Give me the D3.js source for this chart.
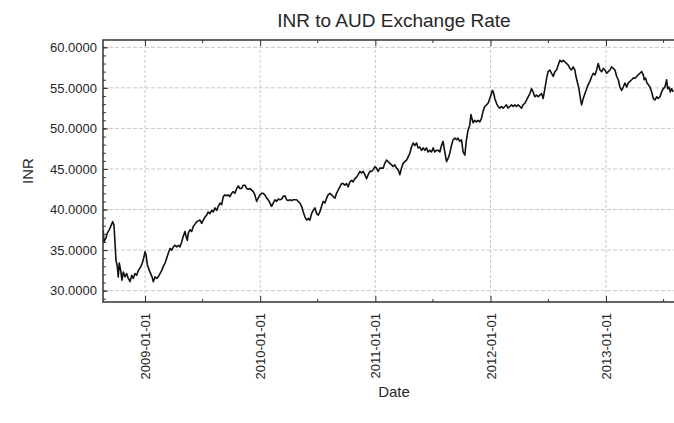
<!DOCTYPE html>
<html><head><meta charset="utf-8">
<script src="https://cdn.jsdelivr.net/npm/d3@7"></script>
<style>
html,body{margin:0;padding:0;background:#fff;}
text{font-family:"Liberation Sans",Arial,sans-serif;fill:#262626;}
</style></head>
<body><svg id="c" width="674" height="423"></svg>
<script>
// ---- data (decimal years, INR per AUD) ----
const years = [
2008.638,2008.644,2008.662,2008.673,2008.690,2008.702,2008.720,2008.731,2008.742,2008.748,2008.760,2008.768,2008.777,2008.789,2008.800,2008.812,2008.826,2008.841,2008.855,2008.870,2008.885,2008.898,2008.913,2008.928,2008.942,2008.957,2008.971,2008.985,
2009.000,2009.009,2009.020,2009.037,2009.049,2009.061,2009.072,2009.087,2009.102,2009.115,2009.130,2009.145,2009.159,2009.174,2009.188,2009.202,2009.217,2009.232,2009.246,2009.260,2009.275,2009.289,2009.304,2009.318,2009.332,2009.347,2009.356,2009.367,2009.376,2009.390,2009.405,2009.419,2009.434,2009.449,2009.462,2009.477,2009.492,2009.506,2009.521,2009.535,2009.549,2009.564,2009.579,2009.593,2009.607,2009.622,2009.636,2009.651,2009.666,2009.679,2009.694,2009.709,2009.723,2009.738,2009.752,2009.766,2009.781,2009.796,2009.810,2009.824,2009.839,2009.853,2009.868,2009.882,2009.896,2009.911,2009.926,2009.940,2009.954,2009.969,2009.983,2009.998,
2010.013,2010.026,2010.041,2010.056,2010.070,2010.085,2010.099,2010.113,2010.128,2010.143,2010.157,2010.171,2010.186,2010.200,2010.215,2010.230,2010.243,2010.258,2010.273,2010.287,2010.302,2010.316,2010.330,2010.345,2010.360,2010.374,2010.388,2010.403,2010.417,2010.432,2010.446,2010.460,2010.475,2010.490,2010.504,2010.518,2010.533,2010.547,2010.562,2010.577,2010.590,2010.605,2010.620,2010.634,2010.649,2010.663,2010.677,2010.692,2010.707,2010.721,2010.735,2010.750,2010.764,2010.779,2010.794,2010.807,2010.822,2010.837,2010.851,2010.866,2010.880,2010.894,2010.909,2010.924,2010.938,2010.952,2010.967,2010.981,2010.996,
2011.010,2011.024,2011.039,2011.054,2011.068,2011.082,2011.097,2011.111,2011.126,2011.141,2011.154,2011.169,2011.184,2011.198,2011.213,2011.227,2011.241,2011.256,2011.271,2011.285,2011.299,2011.314,2011.328,2011.343,2011.358,2011.371,2011.386,2011.401,2011.415,2011.430,2011.444,2011.458,2011.473,2011.488,2011.502,2011.516,2011.531,2011.545,2011.560,2011.574,2011.588,2011.603,2011.618,2011.632,2011.646,2011.661,2011.675,2011.690,2011.705,2011.718,2011.733,2011.748,2011.762,2011.777,2011.791,2011.805,2011.820,2011.830,2011.849,2011.863,2011.878,2011.892,2011.907,2011.921,2011.935,2011.950,2011.965,2011.979,2011.994,
2012.008,2012.017,2012.028,2012.037,2012.052,2012.066,2012.080,2012.095,2012.109,2012.124,2012.138,2012.152,2012.167,2012.182,2012.196,2012.210,2012.225,2012.239,2012.254,2012.269,2012.282,2012.297,2012.312,2012.326,2012.341,2012.355,2012.369,2012.384,2012.399,2012.413,2012.427,2012.442,2012.456,2012.471,2012.486,2012.499,2012.514,2012.529,2012.543,2012.558,2012.572,2012.586,2012.601,2012.616,2012.630,2012.644,2012.659,2012.673,2012.688,2012.702,2012.716,2012.731,2012.740,2012.754,2012.766,2012.774,2012.783,2012.789,2012.803,2012.818,2012.833,2012.846,2012.861,2012.876,2012.890,2012.905,2012.919,2012.933,2012.948,2012.963,2012.977,2012.991,
2013.006,2013.020,2013.035,2013.049,2013.063,2013.078,2013.093,2013.107,2013.121,2013.136,2013.150,2013.165,2013.180,2013.193,2013.208,2013.223,2013.237,2013.252,2013.266,2013.280,2013.295,2013.310,2013.324,2013.332,2013.344,2013.356,2013.367,2013.382,2013.397,2013.410,2013.425,2013.440,2013.454,2013.469,2013.483,2013.497,2013.512,2013.527,2013.535,2013.547,2013.558,2013.570,2013.584
];
const rates = [
37.5,36.0,36.5,37.1,37.5,37.9,38.5,38.1,35.4,33.8,33.0,31.7,33.4,32.5,31.3,32.3,31.7,32.1,31.5,31.1,31.9,31.5,32.1,31.9,32.5,32.8,33.2,33.8,
34.8,34.4,33.2,32.5,32.1,31.7,31.1,31.7,31.5,31.7,32.1,32.5,33.0,33.4,34.0,34.6,35.2,35.0,35.4,35.6,35.4,35.6,35.4,36.0,36.7,37.3,36.7,36.2,37.1,37.5,37.3,37.9,38.2,38.5,38.6,38.7,38.3,38.7,39.1,39.3,39.7,39.5,39.9,39.7,40.2,39.9,40.4,40.8,40.6,41.6,41.8,41.7,41.8,41.6,42.0,42.2,42.0,42.6,42.9,42.6,42.6,43.0,43.0,42.6,42.5,42.6,42.4,42.2,41.8,41.0,41.4,41.8,
42.0,42.0,41.8,41.4,41.2,40.8,40.4,40.8,41.2,41.0,41.3,41.2,41.3,41.6,41.7,41.2,41.1,41.2,41.1,41.2,41.2,41.2,41.0,40.8,40.4,39.7,39.1,38.7,38.9,38.7,39.5,39.9,40.2,39.5,39.3,39.7,40.4,41.0,40.8,41.4,41.8,42.0,41.8,41.6,41.4,42.0,42.4,42.8,43.2,43.2,43.0,43.2,42.8,43.4,43.6,43.4,43.8,44.0,44.3,44.7,44.5,44.7,44.3,43.8,44.3,44.7,44.7,44.9,45.3,
45.1,44.7,45.1,45.1,45.1,45.7,46.1,45.9,45.7,45.5,45.3,45.5,45.1,44.9,44.3,45.1,45.7,45.9,46.1,46.5,46.9,47.7,48.2,47.9,48.2,47.6,47.7,47.3,47.6,47.3,47.6,47.1,47.3,47.1,47.6,47.1,47.3,47.3,47.1,47.9,48.4,47.1,45.9,46.3,46.9,47.9,48.6,48.8,48.6,48.8,48.4,48.6,47.1,46.7,48.6,49.8,50.4,51.7,50.7,51.0,50.8,51.0,50.8,51.2,52.1,52.7,52.9,53.1,53.7,
54.3,54.7,54.3,53.7,53.1,52.7,52.5,52.7,52.5,52.7,52.9,52.5,52.7,52.9,52.7,52.9,52.7,52.9,52.7,52.5,52.9,53.1,53.5,53.9,54.3,54.9,54.5,53.9,54.1,53.9,54.1,54.3,53.7,54.9,56.2,57.0,57.2,56.8,56.4,57.0,57.2,57.8,58.4,58.2,58.4,58.2,58.0,57.8,57.4,57.2,57.6,57.2,56.4,55.6,54.9,54.1,53.3,52.9,53.7,54.3,54.9,55.4,55.8,56.4,56.8,56.6,57.2,58.0,57.2,57.0,57.4,57.2,
56.8,57.0,57.2,57.6,57.4,57.2,56.4,56.0,55.1,54.7,55.1,55.6,55.1,55.6,55.8,56.0,56.2,56.2,56.4,56.6,56.8,57.0,56.6,56.0,56.2,55.6,55.4,55.1,54.5,53.7,53.5,53.9,53.7,53.9,54.5,54.9,55.1,56.0,54.9,55.1,54.5,54.9,54.5
];
const yTickValues = [30,35,40,45,50,55,60];
const xTickLabels = ["2009-01-01","2010-01-01","2011-01-01","2012-01-01","2013-01-01"];
const xDomainYears = [2008.636, 2013.582];
const yDomain = [28.6, 60.9];
const title = "INR to AUD Exchange Rate";
const xTitle = "Date";
const yTitle = "INR";

// ---- helpers ----
function decYear(y){
  const yr = Math.floor(y);
  const s = new Date(yr,0,1), e = new Date(yr+1,0,1);
  return new Date(+s + (y-yr)*(e-s));
}
const data = years.map((y,i)=>({d:decYear(y), v:rates[i]}));

const L=103, T=40, R=674, B=302;
const svg = d3.select("#c");
const x = d3.scaleTime().domain(xDomainYears.map(decYear)).range([L, R-1]);
const y = d3.scaleLinear().domain(yDomain).range([B, T]);

const majorX = xTickLabels.map(s=>d3.timeParse("%Y-%m-%d")(s));
const minorX = d3.timeMonth.every(6).range(x.domain()[0], x.domain()[1]).filter(d=>d.getMonth()===6);
const minorY = d3.range(29, 61, 1);

// grid
const grid = svg.append("g");
grid.selectAll(".gy").data(yTickValues).enter().append("line")
  .attr("x1",L).attr("x2",R).attr("y1",d=>y(d)).attr("y2",d=>y(d))
  .attr("stroke","#c8c8c8").attr("stroke-width",1).attr("stroke-dasharray","4,2");
grid.selectAll(".gx").data(majorX).enter().append("line")
  .attr("y1",T).attr("y2",B).attr("x1",d=>x(d)).attr("x2",d=>x(d))
  .attr("stroke","#c8c8c8").attr("stroke-width",1).attr("stroke-dasharray","3,2");

// line
svg.append("clipPath").attr("id","clip").append("rect")
  .attr("x",L).attr("y",T).attr("width",R-L).attr("height",B-T);
svg.append("path").datum(data)
  .attr("clip-path","url(#clip)")
  .attr("fill","none").attr("stroke","#111").attr("stroke-width",1.6)
  .attr("stroke-linejoin","round")
  .attr("d", d3.line().x(d=>x(d.d)).y(d=>y(d.v)));

// axes
function styleAxis(g){
  g.select(".domain").remove();
  g.selectAll(".tick line").attr("stroke","#333");
}
const gl = svg.append("g").attr("transform",`translate(${L},0)`)
  .call(d3.axisLeft(y).tickValues(yTickValues).tickSize(-5).tickPadding(6).tickFormat(d3.format(".4f")));
styleAxis(gl);
gl.selectAll("text").style("font-size","13px").attr("fill","#262626");
const glm = svg.append("g").attr("transform",`translate(${L},0)`)
  .call(d3.axisLeft(y).tickValues(minorY).tickSize(-3).tickFormat(""));
styleAxis(glm);

const gb = svg.append("g").attr("transform",`translate(0,${B})`)
  .call(d3.axisBottom(x).tickValues(majorX).tickSize(-6).tickFormat(d3.timeFormat("%Y-%m-%d")));
styleAxis(gb);
gb.selectAll("text").style("font-size","13px").attr("fill","#262626")
  .attr("transform","rotate(-90)").attr("x",-11).attr("y",0).attr("dy","0.35em")
  .style("text-anchor","end");
const gbm = svg.append("g").attr("transform",`translate(0,${B})`)
  .call(d3.axisBottom(x).tickValues(minorX).tickSize(-3).tickFormat(""));
styleAxis(gbm);
const gt = svg.append("g").attr("transform",`translate(0,${T})`)
  .call(d3.axisTop(x).tickValues(majorX).tickSize(-6).tickFormat(""));
styleAxis(gt);
const gtm = svg.append("g").attr("transform",`translate(0,${T})`)
  .call(d3.axisTop(x).tickValues(minorX).tickSize(-3).tickFormat(""));
styleAxis(gtm);

// frame
svg.append("path").attr("d",`M${R},${T}H${L}V${B}H${R}`)
  .attr("fill","none").attr("stroke","#333").attr("stroke-width",1.5);

// titles
svg.append("text").attr("x",394).attr("y",27).attr("text-anchor","middle")
  .style("font-size","19px").text(title);
svg.append("text").attr("x",394).attr("y",397).attr("text-anchor","middle")
  .style("font-size","15px").text(xTitle);
svg.append("text").attr("transform","translate(33,171) rotate(-90)").attr("text-anchor","middle")
  .style("font-size","15px").text(yTitle);
</script></body></html>
